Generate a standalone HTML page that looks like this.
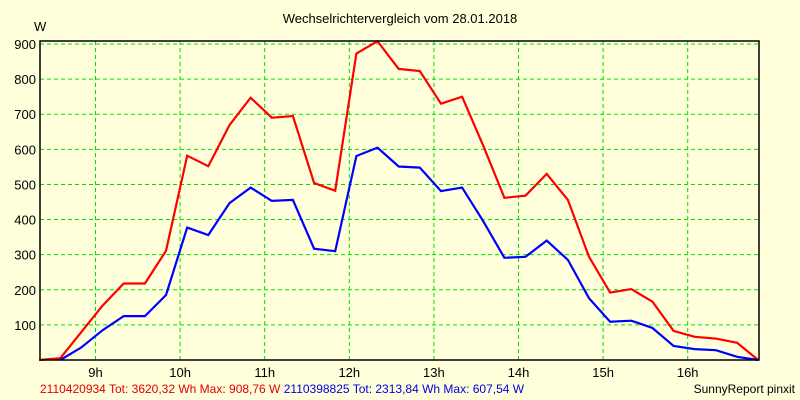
<!DOCTYPE html>
<html><head><meta charset="utf-8"><style>
body{margin:0;background:#ffffdc;}
svg{display:block;font-family:"Liberation Sans",sans-serif;}
</style></head><body>
<svg width="800" height="400" xmlns="http://www.w3.org/2000/svg">
<rect width="800" height="400" fill="#ffffdc"/>
<text x="400" y="23" font-size="13" text-anchor="middle">Wechselrichtervergleich vom 28.01.2018</text>
<text x="34" y="31" font-size="13">W</text>
<g id="grid"></g>
<g id="lines"></g>
<rect x="40" y="41" width="719" height="319" fill="none" stroke="#000" stroke-width="1.5"/>
<g id="labels" font-size="13"></g>
<text x="40" y="393" font-size="12"><tspan fill="#e00000">2110420934 Tot: 3620,32 Wh Max: 908,76 W </tspan><tspan fill="#0000e0">2110398825 Tot: 2313,84 Wh Max: 607,54 W</tspan></text>
<text x="795" y="393" font-size="12" text-anchor="end">SunnyReport pinxit</text>
</svg>
<script>
const startHour = 8 + 20/60;
const stepMin = 15;
const redValues = [0,5,80,155,218,218,311,582,552,669,747,690,695,504,482,873,908,829,823,730,750,610,462,468,530,456,294,192,202,166,83,66,61,49,0];
const blueValues = [null,0,36,85,125,125,185,377,356,447,491,453,456,317,310,581,605,551,548,481,491,395,291,294,340,285,176,109,112,91,40,31,28,9,0];
const yTicks = [100,200,300,400,500,600,700,800,900];
const xTicks = [9,10,11,12,13,14,15,16];
const xTickLabels = ["9h","10h","11h","12h","13h","14h","15h","16h"];
const NS="http://www.w3.org/2000/svg";
function xs(h){return 95.5+(h-9)*84.6;}
function ys(v){return 360-v*316/900;}
const grid=document.getElementById('grid'), lines=document.getElementById('lines'), labels=document.getElementById('labels');
yTicks.forEach(v=>{
  const l=document.createElementNS(NS,'line');
  
  
  l.setAttribute('x1',40);l.setAttribute('x2',759);l.setAttribute('y1',ys(v));l.setAttribute('y2',ys(v));
  l.setAttribute('stroke','#00e000');l.setAttribute('stroke-dasharray','4 3');
  grid.appendChild(l);
  const t=document.createElementNS(NS,'text');
  
  
  t.setAttribute('x',36);t.setAttribute('y',ys(v)+5);t.setAttribute('text-anchor','end');
  t.textContent=v;labels.appendChild(t);
});
xTicks.forEach((h,i)=>{
  const l=document.createElementNS(NS,'line');
  
  
  l.setAttribute('x1',xs(h));l.setAttribute('x2',xs(h));l.setAttribute('y1',41);l.setAttribute('y2',360);
  l.setAttribute('stroke','#00e000');l.setAttribute('stroke-dasharray','4 3');
  grid.appendChild(l);
  const t=document.createElementNS(NS,'text');
  
  
  t.setAttribute('x',xs(h));t.setAttribute('y',377);t.setAttribute('text-anchor','middle');
  t.textContent=xTickLabels[i];labels.appendChild(t);
});
function draw(vals,color,name){
  const pts=[];
  vals.forEach((v,i)=>{if(v!==null)pts.push(xs(startHour+i*stepMin/60).toFixed(1)+','+ys(v).toFixed(1));});
  const p=document.createElementNS(NS,'polyline');
  
  
  p.setAttribute('points',pts.join(' '));p.setAttribute('fill','none');
  p.setAttribute('stroke',color);p.setAttribute('stroke-width','2.2');
  lines.appendChild(p);
}
draw(redValues,'#ff0000','series-2110420934');
draw(blueValues,'#0000ff','series-2110398825');
</script>
</body></html>
